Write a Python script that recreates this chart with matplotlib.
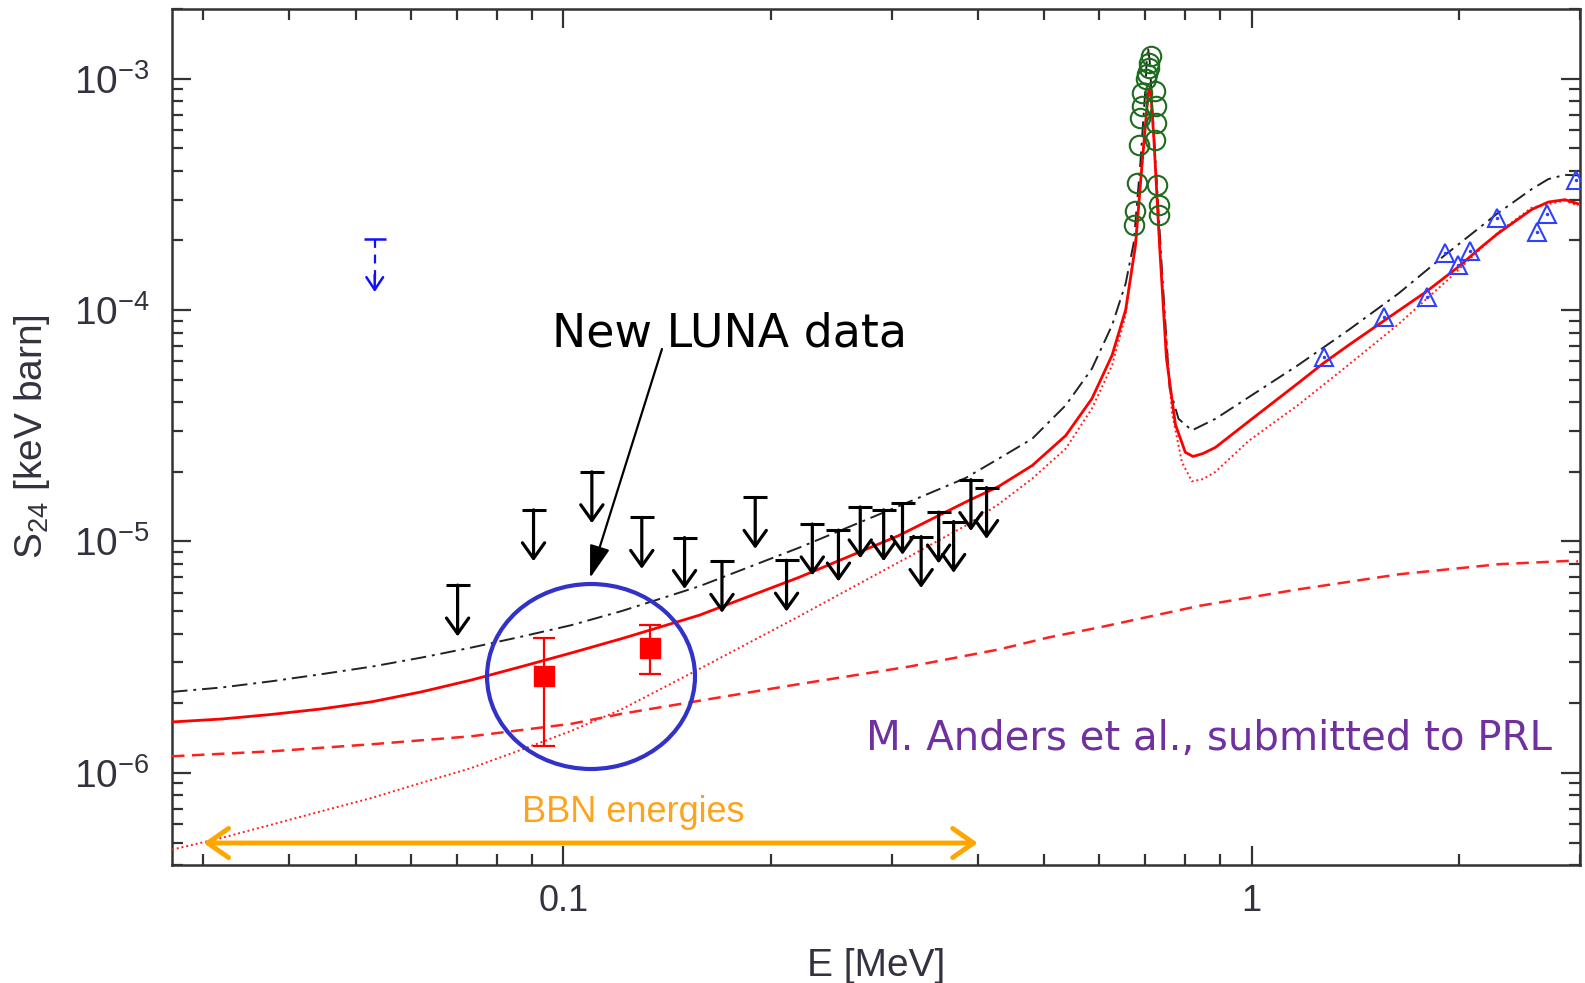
import matplotlib
matplotlib.use('Agg')
import matplotlib.pyplot as plt
from matplotlib.patches import Ellipse
from matplotlib.ticker import FixedLocator, FixedFormatter, NullFormatter, LogLocator

plt.rcParams['font.family'] = ['Liberation Sans', 'DejaVu Sans']
plt.rcParams['mathtext.default'] = 'regular'
plt.rcParams['axes.unicode_minus'] = False

# ── DATA ──────────────────────────────────────────────────────────────────
# black dash-dot curve
E_dd = [0.027, 0.0319, 0.0377, 0.0445, 0.0527, 0.0622, 0.0735, 0.0869, 0.1027, 0.1214,
        0.1575, 0.22, 0.307, 0.384, 0.429, 0.48, 0.537, 0.586, 0.627, 0.656, 0.674,
        0.689, 0.701, 0.704, 0.707, 0.711, 0.717, 0.741, 0.760, 0.783, 0.819, 0.886,
        0.99, 1.17, 1.383, 1.635, 1.91, 2.27, 2.552, 2.698, 2.853, 2.98]
S_dd = [2.24e-6, 2.34e-6, 2.49e-6, 2.67e-6, 2.88e-6, 3.15e-6, 3.48e-6, 3.88e-6, 4.35e-6,
        5.0e-6, 6.4e-6, 9.4e-6, 1.42e-5, 1.88e-5, 2.28e-5, 2.78e-5, 3.88e-5, 5.58e-5,
        8.6e-5, 1.3e-4, 1.95e-4, 4.25e-4, 9.1e-4, 1.2e-3, 1.36e-3, 1.2e-3, 7.7e-4,
        1.47e-4, 4.6e-5, 3.39e-5, 3.02e-5, 3.39e-5, 4.2e-5, 5.8e-5, 8.2e-5, 1.18e-4,
        1.73e-4, 2.6e-4, 3.33e-4, 3.68e-4, 3.84e-4, 3.82e-4]

# red solid curve
E_sol = [0.027, 0.0319, 0.0377, 0.0445, 0.0527, 0.0622, 0.0735, 0.0869, 0.1027, 0.1214,
         0.1575, 0.22, 0.307, 0.384, 0.429, 0.48, 0.537, 0.586, 0.627, 0.656, 0.678,
         0.693, 0.705, 0.709, 0.713, 0.721, 0.735, 0.752, 0.775, 0.801, 0.822, 0.85,
         0.886, 0.99, 1.17, 1.272, 1.383, 1.549, 1.793, 1.993, 2.16, 2.283, 2.552,
         2.698, 2.853, 2.98]
S_sol = [1.66e-6, 1.71e-6, 1.79e-6, 1.89e-6, 2.03e-6, 2.24e-6, 2.52e-6, 2.88e-6, 3.30e-6,
         3.80e-6, 4.8e-6, 7.0e-6, 1.06e-5, 1.48e-5, 1.73e-5, 2.13e-5, 2.87e-5, 4.14e-5,
         6.38e-5, 1.0e-4, 1.9e-4, 4.25e-4, 7.7e-4, 9.0e-4, 9.1e-4, 5.53e-4, 1.9e-4,
         6.2e-5, 3.2e-5, 2.43e-5, 2.33e-5, 2.4e-5, 2.55e-5, 3.3e-5, 4.85e-5, 5.9e-5,
         7.05e-5, 8.9e-5, 1.2e-4, 1.53e-4, 1.88e-4, 2.15e-4, 2.72e-4, 2.93e-4, 3.0e-4,
         2.88e-4]

# red dotted curve
E_dot = [0.027, 0.0319, 0.0377, 0.0445, 0.0527, 0.0622, 0.0735, 0.0869, 0.1027, 0.1214,
         0.1575, 0.22, 0.307, 0.384, 0.429, 0.48, 0.537, 0.586, 0.627, 0.656, 0.678,
         0.693, 0.705, 0.709, 0.713, 0.721, 0.735, 0.766, 0.792, 0.819, 0.85, 0.886,
         0.99, 1.17, 1.383, 1.635, 1.932, 2.283, 2.552, 2.853, 2.98]
S_dot = [4.66e-7, 5.24e-7, 5.98e-7, 6.83e-7, 7.80e-7, 9.06e-7, 1.05e-6, 1.26e-6, 1.52e-6,
         1.88e-6, 2.81e-6, 4.75e-6, 8.13e-6, 1.17e-5, 1.45e-5, 1.87e-5, 2.52e-5, 3.75e-5,
         5.77e-5, 9.5e-5, 2.0e-4, 4.2e-4, 7.6e-4, 8.9e-4, 9.0e-4, 5.5e-4, 1.85e-4,
         3.6e-5, 2.2e-5, 1.82e-5, 1.86e-5, 2.0e-5, 2.72e-5, 3.9e-5, 5.8e-5, 8.7e-5,
         1.36e-4, 2.17e-4, 2.77e-4, 2.97e-4, 2.82e-4]

# red dashed curve
E_dsh = [0.027, 0.0377, 0.0527, 0.0735, 0.1027, 0.1214, 0.22, 0.318, 0.43, 0.507, 0.600,
         0.839, 1.173, 1.64, 2.29, 2.90, 2.98]
S_dsh = [1.18e-6, 1.24e-6, 1.33e-6, 1.44e-6, 1.63e-6, 1.80e-6, 2.42e-6, 2.88e-6, 3.42e-6,
         3.85e-6, 4.25e-6, 5.27e-6, 6.22e-6, 7.22e-6, 7.98e-6, 8.25e-6, 8.2e-6]

# new LUNA data (red squares)
E_luna = [0.0938, 0.1337]
S_luna = [2.61e-6, 3.48e-6]
S_luna_hi = [3.82e-6, 4.35e-6]
S_luna_lo = [1.31e-6, 2.67e-6]

# black upper limits
E_ul = [0.0702, 0.0905, 0.110, 0.130, 0.150, 0.170, 0.190, 0.211, 0.230, 0.251, 0.270,
        0.292, 0.311, 0.331, 0.351, 0.369, 0.391, 0.412]
S_ul = [6.48e-6, 1.37e-5, 2.0e-5, 1.27e-5, 1.04e-5, 8.2e-6, 1.55e-5, 8.3e-6, 1.19e-5,
        1.12e-5, 1.41e-5, 1.37e-5, 1.46e-5, 1.05e-5, 1.34e-5, 1.22e-5, 1.85e-5, 1.71e-5]

# blue upper limit
E_ul_b = [0.0532]
S_ul_b = [2.03e-4]

# green circles (resonance)
E_res = [0.713, 0.709, 0.709, 0.705, 0.702, 0.692, 0.692, 0.689, 0.687, 0.682, 0.678,
         0.674, 0.725, 0.726, 0.726, 0.725, 0.729, 0.733, 0.733]
S_res = [1.25e-3, 1.17e-3, 1.11e-3, 1.05e-3, 1.0e-3, 8.67e-4, 7.59e-4, 6.75e-4, 5.18e-4,
         3.53e-4, 2.67e-4, 2.33e-4, 8.82e-4, 7.59e-4, 6.43e-4, 5.44e-4, 3.48e-4,
         2.85e-4, 2.58e-4]

# blue triangles
E_tri = [1.276, 1.555, 1.796, 1.91, 1.995, 2.076, 2.275, 2.602, 2.684, 2.956]
S_tri = [6.28e-5, 9.35e-5, 1.14e-4, 1.76e-4, 1.56e-4, 1.80e-4, 2.49e-4, 2.18e-4, 2.59e-4,
         3.65e-4]

ul_len = 0.6   # arrow tip / cap ratio

# ── FIGURE ────────────────────────────────────────────────────────────────
fig = plt.figure(figsize=(15.85, 9.83), dpi=100, facecolor='w')
ax = fig.add_axes([172/1585, 1 - 865/983, 1408/1585, 856/983])
ax.set_xscale('log')
ax.set_yscale('log')
ax.set_xlim(0.027, 3.0)
ax.set_ylim(4.0e-7, 2.0e-3)

ax.plot(E_dd, S_dd, color='#222222', lw=1.4, ls=(0, (8, 3, 1.5, 3)), zorder=3)
ax.plot(E_dsh, S_dsh, color='#ff2020', lw=1.8, ls=(0, (5, 3)), zorder=3)
ax.plot(E_dot, S_dot, color='#ff2020', lw=1.4, ls=(0, (1, 1.5)), zorder=3)
ax.plot(E_sol, S_sol, color='#ff0000', lw=2.0, zorder=4)

# upper limits
ax.plot(E_ul, S_ul, ls='none', marker='_', ms=17, mew=2.2, color='k', zorder=5)
for e, s in zip(E_ul, S_ul):
    ax.annotate('', xy=(e, s * ul_len), xytext=(e, s),
                arrowprops=dict(arrowstyle='->,head_length=0.45,head_width=0.32',
                                color='k', lw=2.3, shrinkA=0, shrinkB=0,
                                mutation_scale=25), zorder=5)

ax.plot(E_ul_b, S_ul_b, ls='none', marker='_', ms=16, mew=1.8, color='#1010ff', zorder=5)
for e, s in zip(E_ul_b, S_ul_b):
    ax.plot([e, e], [s, s * 0.6], color='#1010ff', lw=1.6, ls=(0, (4, 3)), zorder=5)
    ax.annotate('', xy=(e, s * 0.59), xytext=(e, s * 0.7),
                arrowprops=dict(arrowstyle='->,head_length=0.45,head_width=0.3',
                                color='#1010ff', lw=1.8, shrinkA=0, shrinkB=0,
                                mutation_scale=20), zorder=5)

# resonance data and triangles
ax.plot(E_res, S_res, ls='none', marker='o', ms=14, mfc='none', mec='#1d6b1d',
        mew=1.5, zorder=6)
ax.plot(E_tri, S_tri, ls='none', marker='^', ms=13, mfc='none', mec='#3040ff',
        mew=1.5, zorder=6)
ax.plot(E_tri, S_tri, ls='none', marker='.', ms=3, color='#3040ff', zorder=6)

# LUNA points
err_lo = [s - lo for s, lo in zip(S_luna, S_luna_lo)]
err_hi = [hi - s for s, hi in zip(S_luna, S_luna_hi)]
ax.errorbar(E_luna, S_luna, yerr=[err_lo, err_hi], fmt='s', color='#ff0000', ms=15,
            elinewidth=1.6, capsize=8, capthick=1.6, zorder=7)

# ── ANNOTATIONS ───────────────────────────────────────────────────────────
ax.add_patch(Ellipse((0.2976, 0.2202), 0.1477, 0.2161, transform=ax.transAxes,
                     fill=False, ec='#3232c8', lw=3.0, zorder=8))

ax.text(0.396, 0.606, 'New LUNA data', transform=ax.transAxes, ha='center',
        va='baseline', fontsize=33, color='k', family=['DejaVu Sans'])
ax.annotate('', xy=(0.2969, 0.3353), xytext=(0.348, 0.6028),
            xycoords='axes fraction', textcoords='axes fraction',
            arrowprops=dict(arrowstyle='-|>,head_length=0.8,head_width=0.25', color='k',
                            lw=1.6, shrinkA=0, shrinkB=0, mutation_scale=25))

ax.text(0.7365, 0.1343, 'M. Anders et al., submitted to PRL', transform=ax.transAxes,
        ha='center', va='baseline', fontsize=29, color='#7030a0',
        family=['DejaVu Sans'])

ax.text(0.3274, 0.0502, 'BBN energies', transform=ax.transAxes, ha='center',
        va='baseline', fontsize=26, color='#ffa31a')
ax.annotate('', xy=(0.40, 0.0257), xytext=(0.030, 0.0257),
            xycoords=('data', 'axes fraction'), textcoords=('data', 'axes fraction'),
            arrowprops=dict(arrowstyle='<->,head_length=0.5,head_width=0.35',
                            color='#ffa500', lw=3.5, shrinkA=0, shrinkB=0,
                            mutation_scale=30))

# ── AXES STYLE ────────────────────────────────────────────────────────────
ax.xaxis.set_major_locator(FixedLocator([0.1, 1.0]))
ax.xaxis.set_major_formatter(FixedFormatter(['0.1', '1']))
ax.xaxis.set_minor_locator(LogLocator(base=10, subs=range(2, 10), numticks=20))
ax.xaxis.set_minor_formatter(NullFormatter())
ax.yaxis.set_minor_locator(LogLocator(base=10, subs=range(2, 10), numticks=20))
ax.yaxis.set_minor_formatter(NullFormatter())

ax.tick_params(which='both', direction='in', top=True, right=True, color='#333333')
ax.tick_params(which='major', length=13.5, width=1.6)
ax.tick_params(which='minor', length=8, width=1.6)
ax.tick_params(axis='y', which='major', labelsize=28, pad=16, labelcolor='#333340')
ax.tick_params(axis='x', which='major', labelsize=26, pad=14, labelcolor='#333340')
for sp in ax.spines.values():
    sp.set_linewidth(1.8)
    sp.set_color('#333333')

ax.set_xlabel('E [MeV]', fontsize=28, color='#333340')
ax.xaxis.set_label_coords(0.5, -0.097)
ax.set_ylabel('S$_{24}$ [keV barn]', fontsize=28, color='#333340')
ax.yaxis.set_label_coords(-0.085, 0.5)

fig.savefig('out.png', dpi=100, facecolor='w')
